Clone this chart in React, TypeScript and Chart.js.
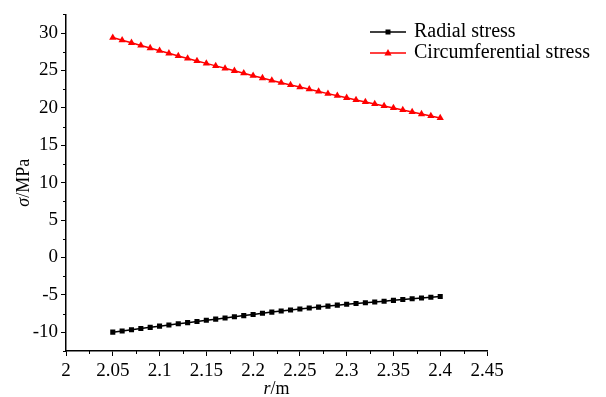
import React, { useEffect, useRef } from "react";
import { Chart, registerables } from "chart.js";

Chart.register(...registerables);

const radii = [
  2.05, 2.06, 2.07, 2.08, 2.09, 2.1, 2.11, 2.12, 2.13, 2.14, 2.15, 2.16,
  2.17, 2.18, 2.19, 2.2, 2.21, 2.22, 2.23, 2.24, 2.25, 2.26, 2.27, 2.28,
  2.29, 2.3, 2.31, 2.32, 2.33, 2.34, 2.35, 2.36, 2.37, 2.38, 2.39, 2.4,
];

const radialStress = [
  -9.98, -9.82, -9.66, -9.5, -9.34, -9.18, -9.02, -8.86, -8.71, -8.55, -8.39,
  -8.24, -8.08, -7.92, -7.77, -7.61, -7.46, -7.3, -7.16, -7.02, -6.89, -6.76,
  -6.63, -6.5, -6.37, -6.26, -6.15, -6.04, -5.94, -5.84, -5.73, -5.62, -5.52,
  -5.42, -5.32, -5.22,
];

const circumferentialStress = [
  29.4, 29.05, 28.7, 28.35, 28.0, 27.65, 27.3, 26.95, 26.61, 26.28, 25.95,
  25.62, 25.29, 24.96, 24.63, 24.31, 23.99, 23.67, 23.37, 23.07, 22.78, 22.49,
  22.2, 21.91, 21.63, 21.35, 21.07, 20.8, 20.53, 20.26, 19.99, 19.72, 19.45,
  19.18, 18.92, 18.66,
];

const seriesLabels = ["Radial stress", "Circumferential stress"];
const xMajorTicks = [2, 2.05, 2.1, 2.15, 2.2, 2.25, 2.3, 2.35, 2.4, 2.45];
const yMajorTicks = [-10, -5, 0, 5, 10, 15, 20, 25, 30];
const xMinorTicks = [2.025, 2.075, 2.125, 2.175, 2.225, 2.275, 2.325, 2.375, 2.425];
const yMinorTicks = [-12.5, -7.5, -2.5, 2.5, 7.5, 12.5, 17.5, 22.5, 27.5, 32.5];

const FONT = "'Liberation Serif', 'Times New Roman', serif";
const TICK_FS = 19;
const TITLE_FS = 18;
const LEGEND_FS = 20;

const overlayPlugin = {
  id: "overlay",
  afterDraw(chart: any) {
    const ctx = chart.ctx as CanvasRenderingContext2D;
    const xs = chart.scales.x;
    const ys = chart.scales.y;
    const area = chart.chartArea;
    ctx.save();
    ctx.strokeStyle = "#000";
    ctx.lineWidth = 1;
    ctx.beginPath();
    for (const v of xMinorTicks) {
      const px = Math.round(xs.getPixelForValue(v)) + 0.5;
      ctx.moveTo(px, area.bottom);
      ctx.lineTo(px, area.bottom + 3);
    }
    for (const v of yMinorTicks) {
      const py = Math.round(ys.getPixelForValue(v)) + 0.5;
      ctx.moveTo(area.left, py);
      ctx.lineTo(area.left - 3, py);
    }
    ctx.stroke();

    ctx.fillStyle = "#000";
    ctx.textBaseline = "middle";
    const italic = `italic ${TITLE_FS}px ${FONT}`;
    const normal = `${TITLE_FS}px ${FONT}`;
    ctx.font = italic;
    const wr = ctx.measureText("r").width;
    ctx.font = normal;
    const wm = ctx.measureText("/m").width;
    const cx = (area.left + area.right) / 2;
    const ty = 389;
    ctx.textAlign = "left";
    ctx.font = italic;
    ctx.fillText("r", cx - (wr + wm) / 2, ty);
    ctx.font = normal;
    ctx.fillText("/m", cx - (wr + wm) / 2 + wr, ty);

    ctx.save();
    const cy = (area.top + area.bottom) / 2;
    ctx.translate(24, cy);
    ctx.rotate(-Math.PI / 2);
    ctx.font = italic;
    const ws = ctx.measureText("σ").width;
    ctx.font = normal;
    const wp = ctx.measureText("/MPa").width;
    ctx.font = italic;
    ctx.fillText("σ", -(ws + wp) / 2, 0);
    ctx.font = normal;
    ctx.fillText("/MPa", -(ws + wp) / 2 + ws, 0);
    ctx.restore();

    const rows = [32, 53];
    chart.data.datasets.forEach((ds: any, i: number) => {
      const y = rows[i];
      ctx.strokeStyle = ds.borderColor;
      ctx.lineWidth = 1.5;
      ctx.beginPath();
      ctx.moveTo(370, y);
      ctx.lineTo(406, y);
      ctx.stroke();
      ctx.fillStyle = ds.pointBackgroundColor;
      ctx.beginPath();
      if (ds.pointStyle === "rect") {
        ctx.rect(388 - 2.5, y - 2.5, 5, 5);
      } else {
        ctx.moveTo(388, y - 4);
        ctx.lineTo(388 + 3.6, y + 2.5);
        ctx.lineTo(388 - 3.6, y + 2.5);
        ctx.closePath();
      }
      ctx.fill();
      ctx.fillStyle = "#000";
      ctx.font = `${LEGEND_FS}px ${FONT}`;
      ctx.textAlign = "left";
      ctx.fillText(ds.label, 414, y);
    });
    ctx.restore();
  },
};

export default function App() {
  const ref = useRef<HTMLCanvasElement>(null);
  useEffect(() => {
    if (!ref.current) return;
    const chart = new Chart(ref.current, {
      type: "line",
      data: {
        datasets: [
          {
            label: seriesLabels[0],
            data: radii.map((r, i) => ({ x: r, y: radialStress[i] })),
            borderColor: "#000000",
            backgroundColor: "#000000",
            pointBackgroundColor: "#000000",
            pointBorderWidth: 0,
            pointStyle: "rect",
            pointRadius: 3.6,
            borderWidth: 1.5,
            tension: 0,
          },
          {
            label: seriesLabels[1],
            data: radii.map((r, i) => ({ x: r, y: circumferentialStress[i] })),
            borderColor: "#ff0000",
            backgroundColor: "#ff0000",
            pointBackgroundColor: "#ff0000",
            pointBorderWidth: 0,
            pointStyle: "triangle",
            pointRadius: 4.2,
            borderWidth: 1.5,
            tension: 0,
          },
        ],
      },
      options: {
        animation: false,
        responsive: false,
        layout: { padding: { left: 0, right: 119, top: 13, bottom: 0 } },
        plugins: { legend: { display: false }, tooltip: { enabled: false } },
        scales: {
          x: {
            type: "linear",
            min: 2,
            max: 2.45,
            afterBuildTicks: (s: any) => {
              s.ticks = xMajorTicks.map((v) => ({ value: v }));
            },
            afterFit: (s: any) => {
              s.height = 46;
            },
            ticks: {
              padding: 4,
              color: "#000",
              font: { family: FONT, size: TICK_FS },
              maxRotation: 0,
              autoSkip: false,
              callback: (v: any) => String(Number(Number(v).toFixed(3))),
            },
            grid: {
              drawOnChartArea: false,
              drawTicks: true,
              tickLength: 5,
              tickColor: "#000",
              color: "#000",
            },
            border: { display: true, color: "#000", width: 1.5 },
          },
          y: {
            type: "linear",
            min: -12.5,
            max: 32.5,
            afterBuildTicks: (s: any) => {
              s.ticks = yMajorTicks.map((v) => ({ value: v }));
            },
            afterFit: (s: any) => {
              s.width = 66;
            },
            ticks: {
              padding: 3,
              color: "#000",
              font: { family: FONT, size: TICK_FS },
              autoSkip: false,
              callback: (v: any) => String(v),
            },
            grid: {
              drawOnChartArea: false,
              drawTicks: true,
              tickLength: 5,
              tickColor: "#000",
              color: "#000",
            },
            border: { display: true, color: "#000", width: 1.5 },
          },
        },
      },
      plugins: [overlayPlugin],
    });
    return () => chart.destroy();
  }, []);
  return (
    <div style={{ position: "absolute", left: 0, top: 0, width: 606, height: 397, background: "#fff" }}>
      <canvas ref={ref} width={606} height={397} style={{ display: "block" }} />
    </div>
  );
}
